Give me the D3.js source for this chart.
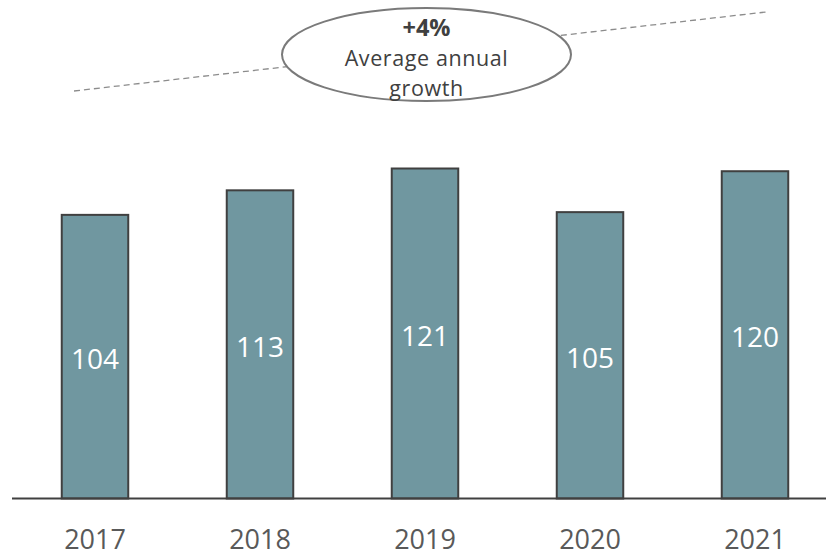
<!DOCTYPE html>
<html>
<head>
<meta charset="utf-8">
<script src="https://cdn.jsdelivr.net/npm/d3@7"></script>
<style>
  html, body { margin: 0; padding: 0; background: #ffffff; }
  svg { display: block; }
</style>
</head>
<body>
<svg id="chart" width="826" height="557"></svg>
<script>
// Yearly totals
const years = ["2017", "2018", "2019", "2020", "2021"];
const values = [104, 113, 121, 105, 120];

// Growth callout
const growthValue = "+4%";
const growthLines = ["Average annual", "growth"];

const svg = d3.select("#chart");
const W = 826, H = 557;
const fontFamily = "'Open Sans', 'Noto Sans', sans-serif";

const baseY = 498.5;
const x = d3.scaleBand().domain(years).range([12.5, 837.5]).paddingInner(0.597).paddingOuter(0.2985);
const y = d3.scaleLinear().domain([0, 121]).range([baseY, baseY - 330]);

// Trend line behind the callout
svg.append("line")
  .attr("x1", 74).attr("y1", 91)
  .attr("x2", 766).attr("y2", 12)
  .attr("stroke", "#8c8c8c")
  .attr("stroke-width", 1.3)
  .attr("stroke-dasharray", "6,4");

// Callout ellipse
svg.append("ellipse")
  .attr("cx", 426.5).attr("cy", 54.5)
  .attr("rx", 144.5).attr("ry", 46.5)
  .attr("fill", "#ffffff")
  .attr("stroke", "#7a7a7a")
  .attr("stroke-width", 2);

svg.append("text")
  .attr("x", 426.5).attr("y", 35.6)
  .attr("text-anchor", "middle")
  .attr("font-family", fontFamily)
  .attr("font-weight", "bold")
  .attr("font-size", 23.5)
  .attr("fill", "#404040")
  .text(growthValue);

// Two-line caption
svg.selectAll("text.growth")
  .data(growthLines)
  .join("text")
  .attr("class", "growth")
  .attr("x", 426.5)
  .attr("y", (d, i) => 66.2 + i * 29.4)
  .attr("text-anchor", "middle")
  .attr("font-family", fontFamily)
  .attr("font-size", 21.5)
  .attr("letter-spacing", 0.6)
  .attr("fill", "#404040")
  .text(d => d);

// Bars
const data = years.map((yr, i) => ({ year: yr, value: values[i] }));

svg.selectAll("rect.bar")
  .data(data)
  .join("rect")
  .attr("class", "bar")
  .attr("x", d => x(d.year))
  .attr("y", d => y(d.value))
  .attr("width", x.bandwidth())
  .attr("height", d => baseY - y(d.value))
  .attr("fill", "#7097a0")
  .attr("stroke", "#404040")
  .attr("stroke-width", 2);

// Value labels inside bars
svg.selectAll("text.val")
  .data(data)
  .join("text")
  .attr("class", "val")
  .attr("x", d => x(d.year) + x.bandwidth() / 2)
  .attr("y", d => (y(d.value) + baseY) / 2 + 12.5)
  .attr("text-anchor", "middle")
  .attr("font-family", fontFamily)
  .attr("font-size", 28)
  .attr("fill", "#ffffff")
  .text(d => d.value);

// Baseline
svg.append("line")
  .attr("x1", 12).attr("x2", W)
  .attr("y1", baseY).attr("y2", baseY)
  .attr("stroke", "#404040")
  .attr("stroke-width", 2);

// Year labels
const xAxis = d3.axisBottom(x).tickSize(0).tickPadding(0);
const axisG = svg.append("g")
  .attr("transform", `translate(0, ${baseY})`)
  .call(xAxis);
axisG.select(".domain").remove();
axisG.selectAll("text")
  .attr("y", 50.5)
  .attr("dy", 0)
  .attr("font-family", fontFamily)
  .attr("font-size", 27)
  .attr("fill", "#595959");
</script>
</body>
</html>
